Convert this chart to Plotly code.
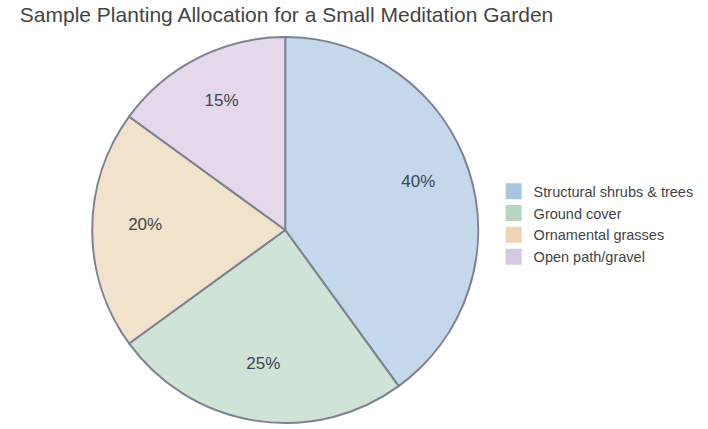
import plotly.graph_objects as go

# planting categories and their share of the garden
categories = ["Structural shrubs & trees", "Ground cover", "Ornamental grasses", "Open path/gravel"]
shares = [40, 25, 20, 15]
slice_colors = ["#c5d7ea", "#cfe3d7", "#f1e2cb", "#e4d8ea"]
legend_colors = ["#a8c4e0", "#b5d6c0", "#edd4b8", "#d4c8e2"]

fig = go.Figure()

# the slices
fig.add_trace(go.Pie(
    labels=categories,
    values=shares,
    sort=False,
    direction="clockwise",
    rotation=0,
    textinfo="none",
    marker=dict(colors=slice_colors, line=dict(color="#7d8192", width=2)),
    domain=dict(x=[0, 0.794], y=[0, 1]),
    hoverinfo="label+percent",
    showlegend=False,
))

# transparent ring on top, only to put the percent labels further out
fig.add_trace(go.Pie(
    labels=categories,
    values=shares,
    sort=False,
    direction="clockwise",
    rotation=0,
    hole=0.49,
    textinfo="percent",
    textposition="inside",
    insidetextorientation="horizontal",
    insidetextfont=dict(size=17, color="#3d4452"),
    marker=dict(colors=["rgba(0,0,0,0)"] * 4, line=dict(width=0)),
    domain=dict(x=[0, 0.794], y=[0.026, 1]),
    hoverinfo="skip",
    showlegend=False,
))

# legend entries with big square swatches
for name, col in zip(categories, legend_colors):
    fig.add_trace(go.Scatter(
        x=[None], y=[None], mode="markers", name=name,
        marker=dict(symbol="square", size=20, color=col, line=dict(width=0)),
        hoverinfo="skip",
    ))

fig.update_layout(
    width=708,
    height=429,
    title=dict(
        text="Sample Planting Allocation for a Small Meditation Garden",
        x=0.028, xanchor="left", y=0.965, yanchor="middle",
        font=dict(family="Liberation Sans, Arial, sans-serif", size=21, color="#444444"),
    ),
    font=dict(family="Liberation Sans, Arial, sans-serif", size=14.5, color="#444444"),
    margin=dict(l=20, r=20, t=37, b=6),
    paper_bgcolor="white",
    plot_bgcolor="white",
    xaxis=dict(visible=False),
    yaxis=dict(visible=False),
    showlegend=True,
    legend=dict(
        x=0.709, xanchor="left",
        y=0.515, yanchor="middle",
        itemsizing="trace",
        tracegroupgap=0,
        font=dict(size=14.5, color="#444444"),
        bgcolor="rgba(0,0,0,0)",
    ),
)

fig.write_html("out.html", config={"displayModeBar": False},
               post_script="document.body.style.margin='0';")
